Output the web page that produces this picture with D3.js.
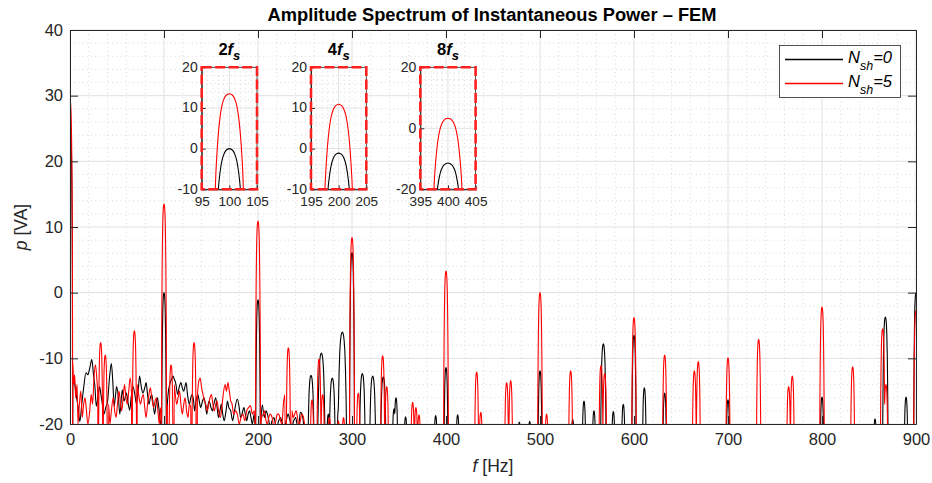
<!DOCTYPE html>
<html>
<head>
<meta charset="utf-8">
<script src="https://cdn.jsdelivr.net/npm/d3@7"></script>
<style>
  body { margin: 0; background: #fff; }
  svg { display: block; font-family: "Liberation Sans", Arial, Helvetica, sans-serif; }
</style>
</head>
<body>
<div id="chart"></div>
<script>
// ---- datos ----
const chartTitle = "Amplitude Spectrum of Instantaneous Power – FEM"
const xTicks = [0, 100, 200, 300, 400, 500, 600, 700, 800, 900]
const yTicks = [-20, -10, 0, 10, 20, 30, 40]
const seriesLabels = ["0", "5"]   // N_sh

// picos: [frecuencia Hz, amplitud dB, ancho relativo]
const peaksN0 = [
  [0, 26], [100, 0], [200, -1.1], [256.4, -12.6, 1.6], [267.4, -9.2, 1.8], [274.8, -18.5],
  [279, -13, 1.6], [285.8, -17.5], [289.7, -6, 2], [292.5, -17.8], [300, 6.1],
  [311, -12.3, 1.5], [322, -12.7, 1.6], [333.3, -12.8, 1.4], [344.7, -17.7], [346.8, -16],
  [357, -18.9], [389, -18.7], [400, -11.4], [412.4, -18.6], [478, -19.7], [489, -19.6],
  [500, -11.9], [534.8, -19.3], [546.8, -16.5], [557.4, -18], [567.4, -7.8, 1.3], [578, -18.1],
  [588.6, -17], [600, -6.5], [611, -14.5], [632.6, -15.3], [700, -16.3], [800, -15.9],
  [856.4, -19.2], [867.4, -3.7, 1.2], [889.4, -15.9], [900, 0]
]
const peaksN5 = [
  [0, 29.3], [32.6, -7.6], [37.5, -9.5], [68.5, -5.8], [100, 13.5], [107.5, -11], [132, -7.6],
  [200, 10.9], [232.3, -8.4], [257.5, -16.3], [264.9, -10.1], [268.8, -15.5], [276, -19],
  [285.5, -19.5], [291, -19], [300, 8.4], [306.7, -15.3], [332.6, -9.6], [336.9, -14.3],
  [364.5, -16.7], [368, -17.5], [371.3, -18.6], [400, 3.3], [432.6, -12.1], [437, -18.2],
  [464.5, -13.7], [468.8, -13.4], [500, 0], [507, -18.5], [532.6, -11.9], [564.9, -11.1],
  [568.8, -12.3], [600, -3.8], [632.6, -9.5], [664.2, -11.9], [668.4, -10.5], [700, -9.9],
  [732.6, -7.1], [764.5, -14.3], [768.4, -12.7], [800, -2.2], [832.6, -11.3], [864.5, -5.5],
  [868, -14], [900, -2.7]
]

// ruido de baja frecuencia: [Hz, dB]
const noiseN0 = [
  [3, -14], [4.5, -13.7], [6.5, -15.5], [8.5, -17.3], [10.5, -19.6], [12.5, -17], [14.5, -14.5],
  [17, -12.2], [19, -12.5], [21, -11.5], [23.2, -10.2], [25, -12.5], [26.5, -14.3], [28, -17.3],
  [30, -15.5], [31.5, -14.3], [33, -15.6], [34.5, -17], [36, -18.5], [38, -17.5], [40, -16.5],
  [42, -13], [44, -10.8], [45.5, -13.5], [47, -17.3], [48.5, -15.5], [49.6, -14.3], [51.5, -16],
  [53, -18.5], [55.6, -14.8], [57.5, -16.5], [60, -15.3], [61.5, -16.5], [63.5, -17.9], [65, -16],
  [67, -14.3], [69, -15.5], [70.6, -16.9], [72.5, -15], [74, -12.7], [76, -14.5], [77.6, -15.3],
  [79.5, -14.5], [81, -13.7], [82.5, -15.5], [84, -17], [85.5, -16], [87, -15.5], [88.5, -17],
  [90, -18.5], [91.5, -17], [93, -16], [94.5, -17.5], [96, -19.5], [97, -20.5],
  [103, -19], [104, -16], [106, -14], [108, -13.2], [109.5, -12.7], [111, -13.2], [112.5, -13.8],
  [114.5, -15.5], [116, -14.5], [118, -13.7], [119.5, -14.5], [121, -15], [123.5, -13.7],
  [125, -15.5], [127, -17], [128.5, -16], [130, -15.5], [131.5, -16.5], [132.5, -18], [134, -16.5],
  [136, -15.5], [137.5, -16.5], [139, -17.5], [141, -16.5], [142.5, -16], [144, -17], [145.5, -18.5],
  [147, -17], [148, -16.5], [150, -17.5], [151.5, -18], [153, -17], [155, -16], [156.5, -17.5],
  [158, -19], [159.5, -18], [161, -17], [162.5, -18.5], [164, -19.5], [166, -18], [167.5, -16.5],
  [169, -17.5], [171, -18], [173, -19.5], [175, -18], [178, -16.2], [180, -17.5], [181.5, -19],
  [183, -18.5], [185, -17.5], [186.5, -18.5], [188, -19.5], [189.5, -18.5], [191, -18], [192.5, -19],
  [194, -20], [196, -18.5], [197, -21],
  [203, -20], [204.6, -17.1], [206, -18.5], [207, -19], [208.5, -18], [210, -18.5], [211.5, -19.5],
  [213, -20.5], [215, -19.5], [217, -19], [218.5, -20], [220, -20.5], [222, -19.5], [224, -19],
  [226, -20], [228, -20.5], [230, -19.5], [232, -18.5], [234, -19.5], [236, -20.5], [238, -19.5],
  [240, -19], [241.5, -20], [243, -21], [245, -18.2], [247, -18.5], [249, -20.5], [251, -22], [253, -30]
]
const noiseN5 = [
  [2.9, -10.6], [4, -14], [5, -12.5], [6, -16], [7.5, -14], [8.5, -20], [10, -17], [11.5, -15],
  [13, -19], [14.5, -17], [16, -16], [17.5, -18], [19, -20], [21, -18], [22.5, -15.5], [24, -17],
  [25.5, -13], [27, -11], [28.5, -13], [29.6, -16],
  [41, -17], [42.5, -20], [44, -18], [46, -16], [47.5, -18], [49, -19], [50.5, -17], [52, -15],
  [53.5, -16.5], [55, -18], [56.5, -16], [58, -14], [59.5, -16], [61, -17], [62.5, -15], [64, -13],
  [65.5, -15.5], [71.5, -14], [73, -15.5], [75, -17], [76.5, -16], [78, -15.5], [79.5, -17.5],
  [81, -19], [82.5, -17], [84, -15.5], [85.5, -14.5], [87, -16], [89, -17.5], [90.5, -16.5],
  [92, -16], [93.5, -18], [95, -20], [96, -18], [97, -17.5],
  [103.6, -17], [110.8, -14], [112, -15.5], [113.5, -17], [115, -16], [116.5, -15], [118, -17],
  [119.5, -18.5], [121, -17], [122.5, -16], [124, -18], [125.5, -19], [127, -17], [128.5, -17.5],
  [135.5, -16], [137, -13.5], [138.5, -13], [140, -14.5], [141.5, -15.5], [143, -16.5], [144.5, -17],
  [146, -18], [147.5, -17], [149, -16], [150.5, -15.5], [152, -17], [153.5, -18], [155, -17],
  [156.5, -16.5], [158, -18], [160, -19], [161.5, -17.5], [163, -15.5], [165, -14], [166.5, -15],
  [168, -13.7], [169.5, -15], [171, -16.5], [172.5, -17], [174, -18.5], [176, -18], [178, -18.5],
  [180, -20], [182, -19], [184, -18.5], [186, -19.5], [188, -18], [190, -17.5], [192, -17.2],
  [194, -18.5], [196, -18], [197, -20],
  [203, -20], [204, -19], [205.5, -18.5], [207, -18], [208.5, -19.5], [210, -20], [211.5, -19],
  [213, -18.5], [215, -19], [217, -20.5], [219, -19.5], [220.5, -18.5], [222, -18.5], [224, -19.5],
  [225.5, -20], [227, -17], [228.7, -15.5], [236, -18], [237.5, -19], [239, -18.5], [240.5, -18],
  [242, -19], [243.5, -20.5], [245, -19.5], [246.5, -18.5], [248, -18.8], [249.5, -20], [251, -22], [253, -30]
]

// ventanas de zoom
const insetLabels = ["2", "4", "8"]
const insetXRanges = [[95, 105], [195, 205], [395, 405]]
const insetYRanges = [[-10, 20], [-10, 20], [-20, 20]]
const insetYTicks = [[-10, 0, 10, 20], [-10, 0, 10, 20], [-20, 0, 20]]

// ---- construcción ----
// forma del lóbulo espectral: [desplazamiento Hz, caída dB]
const lobeShape = [[0, 0], [0.4, 0.2], [0.7, 0.6], [1.0, 1.4], [1.35, 3], [1.7, 6], [2.0, 10],
                   [2.3, 16], [2.5, 22], [2.65, 32], [2.8, 60]]
const reach = lobeShape[lobeShape.length - 1][0]

function lobeAt(peak, f) {
  const [pf, amp, w = 1] = peak
  const o = Math.abs(f - pf) / w
  if (o > reach + 1e-9) return -Infinity
  for (let i = 1; i < lobeShape.length; i++) {
    if (o <= lobeShape[i][0] + 1e-9) {
      const [o0, d0] = lobeShape[i - 1], [o1, d1] = lobeShape[i]
      return amp - (d0 + (d1 - d0) * (o - o0) / (o1 - o0))
    }
  }
  return -Infinity
}

function buildSeries(peaks, noise) {
  const pts = []
  peaks.forEach(p => {
    const w = p[2] || 1
    lobeShape.forEach(([o]) => {
      [p[0] - o * w, p[0] + o * w].forEach(f => pts.push([f, d3.max(peaks, q => lobeAt(q, f))]))
    })
  })
  noise.forEach(([f, v]) => {
    if (peaks.every(p => Math.abs(f - p[0]) > reach * (p[2] || 1))) pts.push([f, v])
  })
  const sorted = pts.filter(d => d[0] >= 0 && d[0] <= 900).sort((a, b) => a[0] - b[0])
  return sorted.filter((d, i) => i === 0 || d[0] - sorted[i - 1][0] > 1e-6)
}

const series = [
  { label: seriesLabels[0], color: "#000000", data: buildSeries(peaksN0, noiseN0) },
  { label: seriesLabels[1], color: "#ff0000", data: buildSeries(peaksN5, noiseN5) }
]

const W = 932, H = 483
const plot = { left: 70, right: 916, top: 30, bottom: 424 }
const axisColor = "#262626"

const svg = d3.select("#chart").append("svg").attr("width", W).attr("height", H)
const defs = svg.append("defs")

const x = d3.scaleLinear().domain([0, 900]).range([plot.left, plot.right])
const y = d3.scaleLinear().domain([-20, 40]).range([plot.bottom, plot.top])

// Rejilla
function drawGrid(g, xs, ys, xMinor, yMinor, x0, x1, y0, y1) {
  g.append("g").selectAll("line").data(xMinor).join("line")
    .attr("x1", d => xs(d)).attr("x2", d => xs(d)).attr("y1", y0).attr("y2", y1)
    .attr("stroke", "#cfcfcf").attr("stroke-width", 0.8).attr("stroke-dasharray", "1,3.2")
  g.append("g").selectAll("line").data(yMinor).join("line")
    .attr("y1", d => ys(d)).attr("y2", d => ys(d)).attr("x1", x0).attr("x2", x1)
    .attr("stroke", "#cfcfcf").attr("stroke-width", 0.8).attr("stroke-dasharray", "1,3.2")
}
function drawMajor(g, xs, ys, xMaj, yMaj, x0, x1, y0, y1) {
  g.append("g").selectAll("line").data(xMaj).join("line")
    .attr("x1", d => xs(d)).attr("x2", d => xs(d)).attr("y1", y0).attr("y2", y1)
    .attr("stroke", "#e1e1e1").attr("stroke-width", 1)
  g.append("g").selectAll("line").data(yMaj).join("line")
    .attr("y1", d => ys(d)).attr("y2", d => ys(d)).attr("x1", x0).attr("x2", x1)
    .attr("stroke", "#e1e1e1").attr("stroke-width", 1)
}

const grid = svg.append("g")
drawGrid(grid, x, y,
  d3.range(0, 901, 20).filter(d => d % 100 !== 0),
  d3.range(-20, 41, 2).filter(d => d % 10 !== 0),
  plot.left, plot.right, plot.top, plot.bottom)
drawMajor(grid, x, y, xTicks, yTicks, plot.left, plot.right, plot.top, plot.bottom)

// Líneas principales
defs.append("clipPath").attr("id", "clip-main").append("rect")
  .attr("x", plot.left).attr("y", plot.top)
  .attr("width", plot.right - plot.left).attr("height", plot.bottom - plot.top)

const line = d3.line().x(d => x(d[0])).y(d => y(d[1])).curve(d3.curveMonotoneX)
svg.append("g").attr("clip-path", "url(#clip-main)")
  .selectAll("path").data(series).join("path")
  .attr("d", d => line(d.data))
  .attr("fill", "none").attr("stroke", d => d.color).attr("stroke-width", 1.1)

// Ejes
function styleAxis(g, fontSize) {
  g.select(".domain").attr("stroke", axisColor)
  g.selectAll(".tick line").attr("stroke", axisColor)
  g.selectAll(".tick text").attr("fill", "#262626").attr("font-size", fontSize)
    .attr("font-family", "'Liberation Sans', Arial, sans-serif")
}
const tickLen = 8
svg.append("g").attr("transform", `translate(0,${plot.bottom})`)
  .call(d3.axisBottom(x).tickValues(xTicks).tickFormat(d => String(d)).tickSize(-tickLen).tickSizeOuter(0).tickPadding(9))
  .call(g => styleAxis(g, 16.5))
svg.append("g").attr("transform", `translate(0,${plot.top})`)
  .call(d3.axisTop(x).tickValues(xTicks).tickFormat("").tickSize(-tickLen).tickSizeOuter(0))
  .call(g => styleAxis(g, 16.5))
svg.append("g").attr("transform", `translate(${plot.left},0)`)
  .call(d3.axisLeft(y).tickValues(yTicks).tickFormat(d => String(d)).tickSize(-tickLen).tickSizeOuter(0).tickPadding(7))
  .call(g => styleAxis(g, 16.5))
svg.append("g").attr("transform", `translate(${plot.right},0)`)
  .call(d3.axisRight(y).tickValues(yTicks).tickFormat("").tickSize(-tickLen).tickSizeOuter(0))
  .call(g => styleAxis(g, 16.5))

// Títulos
svg.append("text").attr("x", (plot.left + plot.right) / 2 - 1).attr("y", 21)
  .attr("text-anchor", "middle").attr("font-weight", "bold").attr("font-size", 18.3)
  .attr("fill", "#000").text(chartTitle)

const xl = svg.append("text").attr("x", (plot.left + plot.right) / 2).attr("y", 472)
  .attr("text-anchor", "middle").attr("font-size", 17.5).attr("fill", "#262626")
xl.append("tspan").attr("font-style", "italic").text("f")
xl.append("tspan").text(" [Hz]")

const yl = svg.append("text")
  .attr("transform", `translate(27,${(plot.top + plot.bottom) / 2}) rotate(-90)`)
  .attr("text-anchor", "middle").attr("font-size", 17.5).attr("fill", "#262626")
yl.append("tspan").attr("font-style", "italic").text("p")
yl.append("tspan").text(" [VA]")

// Insets
const insetW = 55.3, insetTop = 67.3, insetBottom = 189.3
const insetLefts = [201.7, 311, 420.3]

insetXRanges.forEach((xr, i) => {
  const x0 = insetLefts[i], x1 = x0 + insetW
  const xs = d3.scaleLinear().domain(xr).range([x0, x1])
  const ys = d3.scaleLinear().domain(insetYRanges[i]).range([insetBottom, insetTop])
  const g = svg.append("g")

  g.append("rect").attr("x", x0).attr("y", insetTop).attr("width", insetW)
    .attr("height", insetBottom - insetTop).attr("fill", "#fff")

  const yr = insetYRanges[i]
  drawGrid(g, xs, ys,
    d3.range(xr[0] + 1, xr[1], 1).filter(d => d % 5 !== 0),
    d3.range(yr[0] + 2, yr[1], 2).filter(d => d % 10 !== 0),
    x0, x1, insetTop, insetBottom)
  drawMajor(g, xs, ys, [xr[0] + 5], insetYTicks[i], x0, x1, insetTop, insetBottom)

  defs.append("clipPath").attr("id", `clip-inset-${i}`).append("rect")
    .attr("x", x0).attr("y", insetTop).attr("width", insetW).attr("height", insetBottom - insetTop)

  const insetLine = d3.line().x(d => xs(d[0])).y(d => ys(d[1])).curve(d3.curveMonotoneX)
  g.append("g").attr("clip-path", `url(#clip-inset-${i})`)
    .selectAll("path").data(series).join("path")
    .attr("d", d => insetLine(d.data.filter(p => p[0] >= xr[0] - 4 && p[0] <= xr[1] + 4)))
    .attr("fill", "none").attr("stroke", d => d.color).attr("stroke-width", 1.1)

  g.append("g").attr("transform", `translate(0,${insetBottom})`)
    .call(d3.axisBottom(xs).tickValues([xr[0], xr[0] + 5, xr[1]]).tickFormat(d => String(d))
      .tickSize(-4).tickSizeOuter(0).tickPadding(7))
    .call(a => styleAxis(a, 13.6))
  g.append("g").attr("transform", `translate(${x0},0)`)
    .call(d3.axisLeft(ys).tickValues(insetYTicks[i]).tickFormat(d => String(d))
      .tickSize(-4).tickSizeOuter(0).tickPadding(4))
    .call(a => styleAxis(a, 14))
    .call(a => a.selectAll(".tick text").attr("dy", "0.28em"))

  g.append("rect").attr("x", x0).attr("y", insetTop).attr("width", insetW)
    .attr("height", insetBottom - insetTop).attr("fill", "none")
    .attr("stroke", axisColor).attr("stroke-width", 0.8)
  g.append("rect").attr("x", x0).attr("y", insetTop).attr("width", insetW)
    .attr("height", insetBottom - insetTop).attr("fill", "none")
    .attr("stroke", "#ff2020").attr("stroke-width", 2.6).attr("stroke-dasharray", "10,3.5")

  const t = g.append("text").attr("x", (x0 + x1) / 2).attr("y", 55)
    .attr("text-anchor", "middle").attr("font-weight", "bold").attr("font-size", 16.5).attr("fill", "#000")
  t.append("tspan").text(insetLabels[i])
  t.append("tspan").attr("font-style", "italic").text("f")
  t.append("tspan").attr("font-style", "italic").attr("font-size", 13).attr("dy", 5).text("s")
})

// Leyenda
const legend = svg.append("g")
legend.append("rect").attr("x", 779.5).attr("y", 45.5).attr("width", 121).attr("height", 52)
  .attr("fill", "#fff").attr("stroke", axisColor).attr("stroke-width", 0.8)
series.forEach((s, i) => {
  const ly = 59.5 + i * 24
  legend.append("line").attr("x1", 785).attr("x2", 843).attr("y1", ly).attr("y2", ly)
    .style("stroke", s.color).attr("stroke-width", 1.3)
  const t = legend.append("text").attr("x", 848).attr("y", ly + 3).attr("font-size", 16.5)
    .attr("font-style", "italic").attr("fill", "#000")
  t.append("tspan").text("N")
  t.append("tspan").attr("font-size", 12.5).attr("dy", 7).text("sh")
  t.append("tspan").attr("dy", -7).text("=" + s.label)
})
</script>
</body>
</html>
